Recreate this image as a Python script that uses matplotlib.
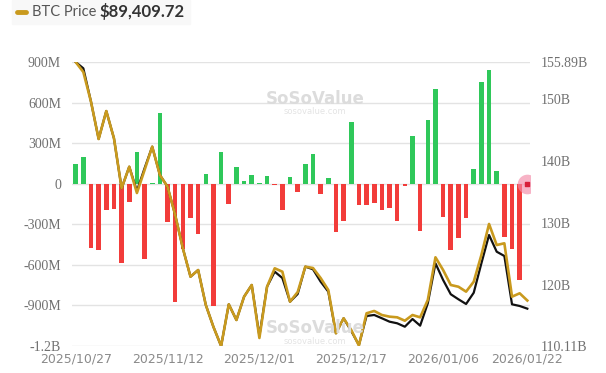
import numpy as np
import pandas as pd
import matplotlib
matplotlib.use("Agg")
import matplotlib.pyplot as plt

# US spot BTC ETF flows, trading days 2025/10/27 - 2026/01/22
holidays = ['2025-11-27', '2025-12-25', '2026-01-01', '2026-01-19']
days = pd.bdate_range('2025-10-27', '2026-01-22')
days = days[~days.isin(pd.to_datetime(holidays))]
dates = [d.strftime('%Y/%m/%d') for d in days]

# daily total net inflow (USD millions)
net_inflow = [149, 201, -476, -491, -193, -188, -583, -136, 238, -560,
              2, 526, -280, -873, -484, -255, -372, 74, -906, 236,
              -149, 124, 17, 67, 5, 55, -12, -193, 50, -62,
              149, 218, -74, 45, -360, -278, 454, -161, -161, -141,
              -191, -176, -278, -15, 355, -347, 471, 700, -243, -489,
              -402, -251, 112, 752, 844, 94, -397, -484, -712, -8]

# total net assets (USD billions)
net_assets = [155.89, 154.87, 149.49, 143.48, 147.99, 143.59, 135.53, 139.01, 135.10, 138.76,
              142.24, 137.68, 135.79, 131.23, 125.86, 121.28, 122.36, 116.72, 113.18, 110.11,
              116.83, 114.30, 118.06, 119.95, 111.73, 119.67, 122.09, 121.07, 117.25, 118.49,
              122.90, 122.48, 120.48, 118.87, 112.16, 114.58, 112.53, 110.27, 114.95, 115.11,
              114.58, 114.03, 113.77, 113.22, 114.46, 113.39, 117.00, 123.44, 120.75, 118.45,
              117.64, 116.88, 118.70, 123.44, 128.00, 125.31, 124.62, 116.83, 116.56, 116.13]

# BTC price (USD)
btc_price = [114120, 113080, 110010, 106140, 109040, 106220, 101040, 103270, 100550, 102930,
             105350, 102410, 101200, 98270, 94820, 91880, 92570, 88950, 86670, 84700,
             89020, 87390, 89810, 91020, 85530, 90840, 92750, 92400, 89290, 90290,
             92920, 92780, 91740, 90500, 86020, 87570, 86360, 84750, 88090, 88330,
             87910, 87740, 87670, 87320, 87910, 87670, 89470, 93890, 92570, 91020,
             90840, 90330, 91360, 94130, 97340, 95160, 95340, 89810, 90160, 89409.72]

left_ticks = [-1200, -900, -600, -300, 0, 300, 600, 900]
left_labels = ['-1.2B', '-900M', '-600M', '-300M', '0', '300M', '600M', '900M']
right_ticks = [110.11, 120, 130, 140, 150, 155.89]
right_labels = ['110.11B', '120B', '130B', '140B', '150B', '155.89B']
xtick_idx = [0, 12, 24, 36, 48, 59]

GREEN = '#2fc85a'
RED = '#f23c3a'
GOLD = '#c99a1e'
x = np.arange(len(dates))

fig = plt.figure(figsize=(6.06, 3.73), dpi=100)
ax = fig.add_axes([72/606, 27/373, 458/606, 284/373])

colors = [GREEN if v >= 0 else RED for v in net_inflow]
ax.bar(x, net_inflow, width=0.6, color=colors, zorder=2)
ax.set_ylim(-1200, 900)
ax.set_xlim(-0.48, 59.35)
ax.set_yticks(left_ticks)
ax.set_yticklabels(left_labels, family='Liberation Serif', fontsize=10, color='#707070')
ax.yaxis.grid(color='#e3e3e3', linewidth=1, zorder=0)
ax.set_axisbelow(True)
ax.set_xticks([x[i] for i in xtick_idx])
ax.set_xticklabels([dates[i] for i in xtick_idx], family='DejaVu Sans', fontsize=9, color='#8a8a8a')
ax.tick_params(axis='both', length=0)
ax.tick_params(axis='y', pad=8)
ax.tick_params(axis='x', pad=5)
for s in ax.spines.values():
    s.set_visible(False)

# hover marker on the last day
ax.scatter([x[-1]], [0], s=200, color='#f48aa8', alpha=0.65, zorder=5, linewidths=0)
ax.scatter([x[-1]], [0], s=10, marker='s', color='#d8203a', zorder=6)

# total net assets (right axis)
ax2 = ax.twinx()
ax2.plot(x, net_assets, color='#111111', linewidth=1.6, zorder=3)
ax2.set_ylim(110.11, 155.89)
ax2.set_yticks(right_ticks)
ax2.set_yticklabels(right_labels, family='Liberation Serif', fontsize=10, color='#707070')
ax2.tick_params(axis='y', length=0, pad=8)
for s in ax2.spines.values():
    s.set_visible(False)

# BTC price (hidden axis)
ax3 = ax.twinx()
ax3.plot(x, btc_price, color=GOLD, linewidth=1.9, zorder=4)
ax3.set_ylim(min(btc_price), max(btc_price))
ax3.axis('off')

# watermarks
for wy in [0.735, 0.12]:
    fig.text(0.52, wy, 'SoSoValue', fontsize=12, fontweight='bold', color='#dcdcdc',
             ha='center', va='center', family='DejaVu Sans', zorder=1)
    fig.text(0.52, wy - 0.035, 'sosovalue.com', fontsize=6, color='#e4e4e4',
             ha='center', va='center', zorder=1)

# legend header
fig.patches.append(matplotlib.patches.Rectangle((12/606, 1 - 24/373), 178/606, 24/373,
                                                transform=fig.transFigure, color='#f8f8f8', zorder=0))
fig.add_artist(matplotlib.lines.Line2D([17/606, 26/606], [1 - 12/373, 1 - 12/373],
                                       color=GOLD, linewidth=3.5, solid_capstyle='round'))
fig.text(32/606, 1 - 12/373, 'BTC Price', fontsize=10.5, color='#555555', va='center',
         family='Lato')
fig.text(100/606, 1 - 12/373, '$89,409.72', fontsize=12, fontweight='bold', color='#333333',
         va='center', family='Lato')

fig.savefig('out.png', dpi=100)
